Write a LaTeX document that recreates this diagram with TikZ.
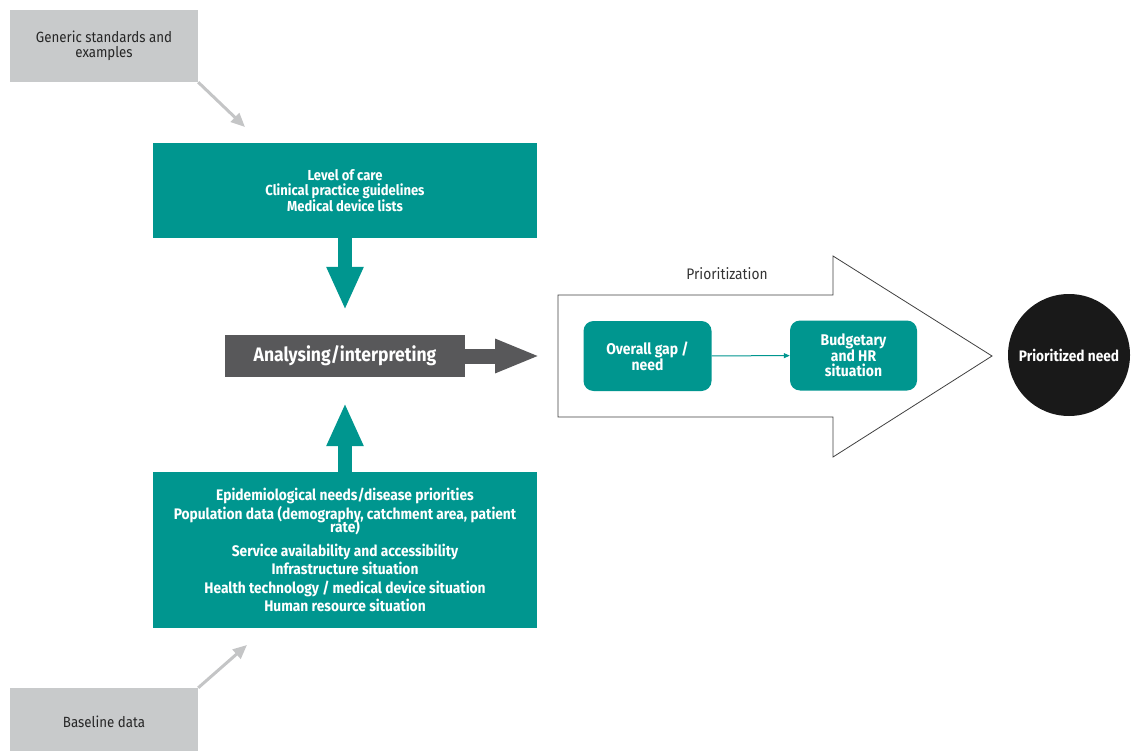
\documentclass[tikz,border=0pt]{standalone}
\usepackage{fontspec}
\setmainfont{Fira Sans}[FakeStretch=0.9]
\usetikzlibrary{arrows.meta, positioning}
\definecolor{tealbox}{RGB}{0,150,143}
\definecolor{greybox}{RGB}{200,202,203}
\definecolor{darkbox}{RGB}{88,88,90}
\definecolor{greyarrow}{RGB}{196,197,198}

\begin{document}
\begin{tikzpicture}[x=1pt, y=-1pt,
  inbox/.style={fill=greybox, text=black!85, inner sep=0pt, align=center,
    minimum width=188pt, font=\fontsize{14.8}{15}\selectfont},
  block/.style={fill=tealbox, text=white, inner sep=0pt, align=center,
    minimum width=384pt, font=\bfseries\fontsize{14.5}{14.5}\selectfont},
  step box/.style={fill=tealbox, text=white, rounded corners=10pt, inner sep=0pt,
    align=center, minimum width=128pt, minimum height=70pt,
    font=\bfseries\fontsize{15.5}{15}\selectfont},
  fat arrow/.style={line width=#1},
  grey link/.style={greyarrow, line width=3pt, -{Triangle[width=12pt,length=14pt]}}]
\useasboundingbox (0,0) rectangle (1132,751);

% inputs
\node[inbox, minimum height=72pt] (gen) at (104,46) {Generic standards and\\examples};
\node[inbox, minimum height=68pt] (base) at (104,722) {Baseline data};

% blocks
\node[block, minimum height=95pt] (care) at (345,190.5) {Level of care\\Clinical practice guidelines\\Medical device lists};
\node[fill=darkbox, text=white, inner sep=0pt, minimum width=240pt, minimum height=42pt,
  font=\bfseries\fontsize{19.5}{20}\selectfont] (ana) at (345,356) {Analysing/interpreting};
\node[block, minimum height=156pt, font=\bfseries\fontsize{15.3}{18.5}\selectfont] (data) at (345,550)
  {Epidemiological needs/disease priorities\\
   Population data (demography, catchment area, patient\\[-5pt]
   rate)\\[5pt]
   Service availability and accessibility\\
   Infrastructure situation\\
   Health technology / medical device situation\\
   Human resource situation};

\coordinate (gtip) at (245,127);
\coordinate (btip) at (247,645);
\coordinate (dtip) at (345,310);
\coordinate (utip) at (345,403);
\coordinate (atip) at (540,356);

\draw[grey link] (gen.south east) -- (gtip);
\draw[grey link] (base.north east) -- (btip);
\draw[tealbox, fat arrow=14pt, -{Triangle[width=34pt,length=43pt]}] (care.south) -- (dtip);
\draw[tealbox, fat arrow=14pt, -{Triangle[width=34pt,length=43pt]}] (data.north) -- (utip);
\draw[darkbox, fat arrow=15pt, -{Triangle[width=31pt,length=45pt]}] (ana.east) -- (atip);

% prioritization
\draw[black!75, line width=0.8pt, fill=white]
  (558,295) -- (833,295) -- (833,256) -- (992,356) -- (833,457) -- (833,417) -- (558,417) -- cycle;
\node[text=black!80, font=\fontsize{15.3}{15}\selectfont] (prio) at (727,274) {Prioritization};
\node[step box] (gap) at (647.5,356) {Overall gap /\\need};
\node[step box, minimum width=127pt] (budget) at (853.5,355.5) {Budgetary\\and HR\\situation};
\draw[tealbox, line width=1pt, -{Triangle[width=5pt,length=6pt]}] (gap) -- (budget);

\node[circle, fill=black!90, text=white, minimum size=122pt, inner sep=0pt,
  font=\bfseries\fontsize{15.2}{15}\selectfont] (need) at (1069,355) {Prioritized need};
\end{tikzpicture}
\end{document}
